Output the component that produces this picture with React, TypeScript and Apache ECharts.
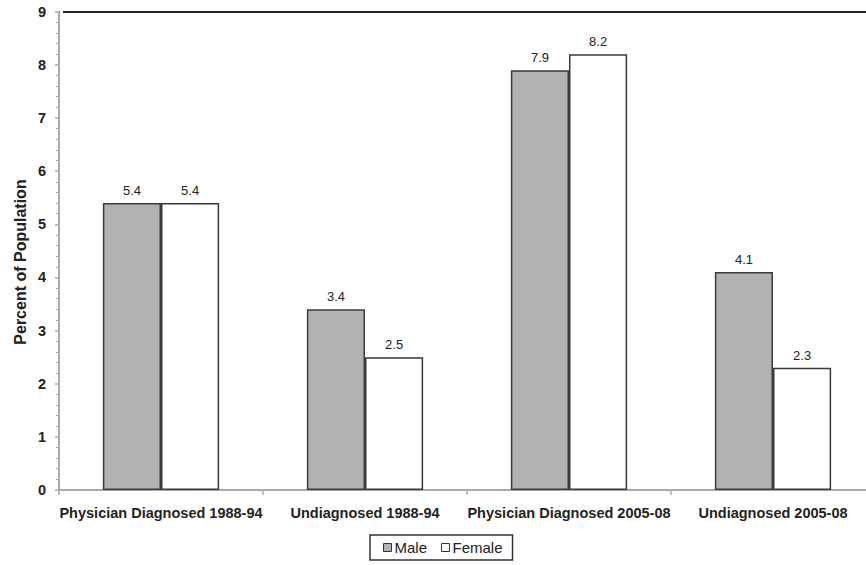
import React, { useEffect, useRef } from "react";
import * as echarts from "echarts";

const categories = [
  "Physician Diagnosed 1988-94",
  "Undiagnosed 1988-94",
  "Physician Diagnosed 2005-08",
  "Undiagnosed 2005-08",
];
const maleValues = [5.4, 3.4, 7.9, 4.1];
const femaleValues = [5.4, 2.5, 8.2, 2.3];
const seriesNames = ["Male", "Female"];
const yAxisName = "Percent of Population";

export default function App() {
  const ref = useRef<HTMLDivElement>(null);
  useEffect(() => {
    if (!ref.current) return;
    const chart = echarts.init(ref.current, undefined, { renderer: "svg" });
    const font = "Arial, 'Liberation Sans', Helvetica, sans-serif";
    const labelCfg = {
      show: true,
      position: "top" as const,
      distance: 6,
      fontSize: 13,
      color: "#222",
      fontFamily: font,
      formatter: (p: any) => Number(p.value).toFixed(1),
    };
    chart.setOption({
      animation: false,
      textStyle: { fontFamily: font },
      grid: {
        left: 59,
        top: 11.7,
        width: 816,
        bottom: 75,
        containLabel: false,
        outerBoundsMode: "none",
      },
      legend: {
        left: 370,
        top: 535,
        data: seriesNames,
        icon: "rect",
        itemWidth: 8,
        itemHeight: 8,
        itemGap: 14,
        borderColor: "#333",
        borderWidth: 1.5,
        padding: [5, 10, 5, 13],
        itemStyle: { borderColor: "#333", borderWidth: 1 },
        textStyle: { fontSize: 15, color: "#222", fontFamily: font, padding: [0, 0, 0, -2] },
      },
      xAxis: {
        type: "category",
        data: categories,
        axisLine: { lineStyle: { color: "#aaaaaa", width: 2 } },
        axisTick: { show: true, length: 5, lineStyle: { color: "#aaaaaa", width: 1.5 } },
        axisLabel: {
          interval: 0,
          fontSize: 14.5,
          fontWeight: "bold",
          color: "#222",
          margin: 15,
          fontFamily: font,
        },
      },
      yAxis: {
        type: "value",
        min: 0,
        max: 9,
        interval: 1,
        axisLine: { show: true, lineStyle: { color: "#aaaaaa", width: 2 } },
        axisTick: { show: true, length: 4, lineStyle: { color: "#aaaaaa", width: 1.5 } },
        minorTick: { show: true, splitNumber: 5, length: 3, lineStyle: { color: "#aaaaaa", width: 1 } },
        splitLine: { show: false },
        axisLabel: { fontSize: 14.5, fontWeight: "bold", color: "#222", margin: 13, fontFamily: font },
      },
      series: [
        {
          name: seriesNames[0],
          type: "bar",
          data: maleValues,
          barGap: "0%",
          barCategoryGap: "43%",
          itemStyle: { color: "#b2b2b5", borderColor: "#3a3a3a", borderWidth: 1.5 },
          label: labelCfg,
        },
        {
          name: seriesNames[1],
          type: "bar",
          data: femaleValues,
          itemStyle: { color: "#ffffff", borderColor: "#3a3a3a", borderWidth: 1.5 },
          label: labelCfg,
        },
      ],
      graphic: [
        {
          type: "line",
          shape: { x1: 63, y1: 12, x2: 866, y2: 12 },
          style: { stroke: "#222", lineWidth: 2 },
        },
        {
          type: "text",
          x: 20,
          y: 262,
          rotation: Math.PI / 2,
          style: {
            text: yAxisName,
            font: `bold 16px ${font}`,
            fill: "#222",
            textAlign: "center",
            textVerticalAlign: "middle",
          },
        },
      ],
    });
    return () => chart.dispose();
  }, []);
  return <div ref={ref} style={{ width: 866, height: 565, position: "absolute", left: 0, top: 0 }} />;
}
